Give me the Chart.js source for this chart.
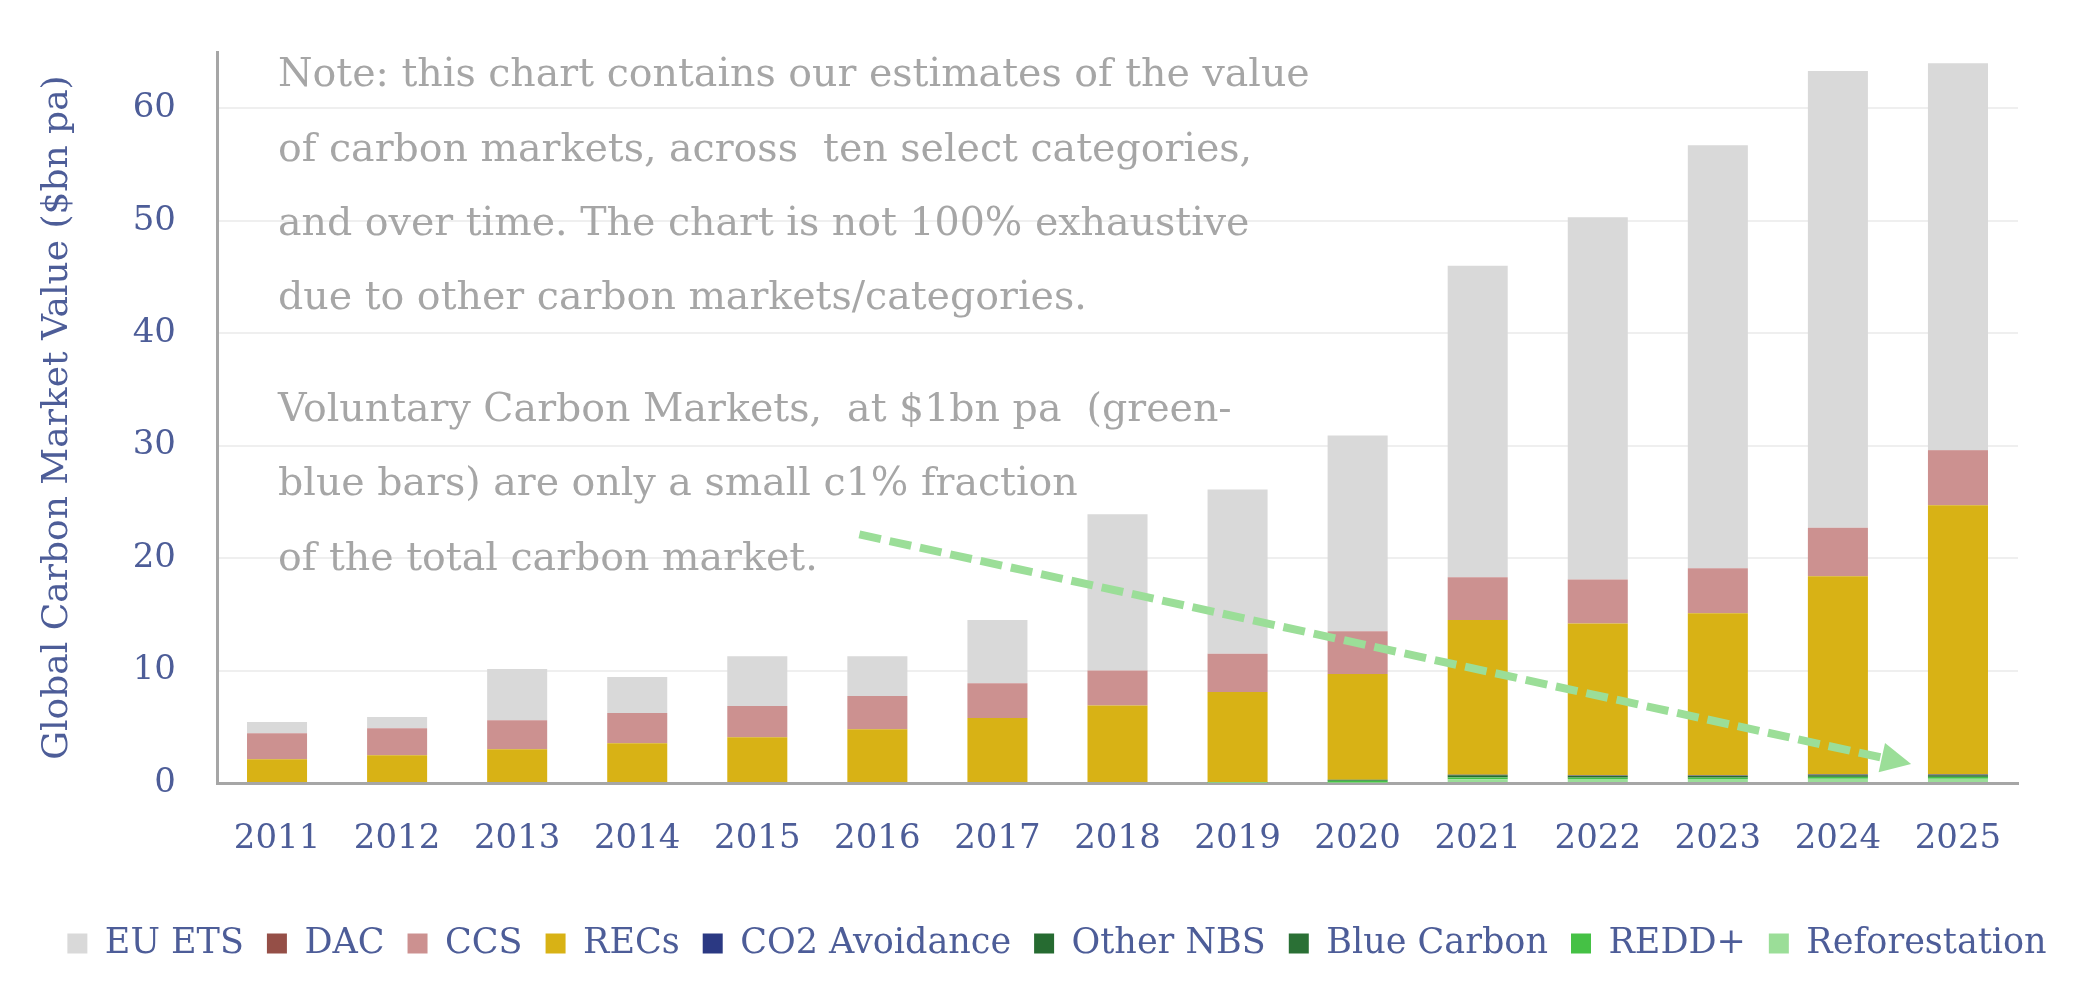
<!DOCTYPE html>
<html>
<head>
<meta charset="utf-8">
<title>Global carbon market value</title>
<script src="https://cdn.jsdelivr.net/npm/chart.js@4.4.0/dist/chart.umd.min.js"></script>
<style>
  html, body { margin: 0; padding: 0; background: #fff; }
</style>
</head>
<body>
<canvas id="chart" width="2078" height="991"></canvas>
<script>
// ---------------- DATA ($bn pa) ----------------
const years = ["2011", "2012", "2013", "2014", "2015", "2016", "2017", "2018",
               "2019", "2020", "2021", "2022", "2023", "2024", "2025"];

const euEts        = [1.01, 1.00, 4.56, 3.20, 4.42, 3.53, 5.63, 13.9, 14.6, 17.4, 27.7, 32.2, 37.6, 40.6, 34.4];
const dac          = [0, 0, 0, 0, 0, 0, 0, 0, 0, 0, 0.01, 0.01, 0.01, 0.01, 0.01];
const ccs          = [2.30, 2.41, 2.58, 2.70, 2.78, 2.96, 3.10, 3.10, 3.40, 3.80, 3.80, 3.90, 4.00, 4.30, 4.90];
const recs         = [2.12, 2.46, 3.00, 3.53, 4.07, 4.78, 5.77, 6.90, 8.00, 9.40, 13.76, 13.52, 14.42, 17.63, 23.93];
const co2Avoidance = [0, 0, 0, 0, 0, 0, 0, 0, 0, 0.01, 0.05, 0.05, 0.05, 0.08, 0.08];
const otherNbs     = [0, 0, 0, 0, 0, 0, 0, 0, 0.05, 0.08, 0.17, 0.12, 0.12, 0.12, 0.12];
const blueCarbon   = [0, 0, 0, 0, 0, 0, 0, 0, 0, 0.01, 0.03, 0.03, 0.03, 0.03, 0.03];
const redd         = [0, 0, 0, 0, 0, 0, 0, 0, 0.03, 0.15, 0.15, 0.12, 0.12, 0.15, 0.15];
const reforest     = [0, 0, 0, 0, 0, 0, 0, 0, 0.02, 0.05, 0.33, 0.35, 0.35, 0.38, 0.38];

const yTicks = [0, 10, 20, 30, 40, 50, 60];

const noteLines = [
  "Note: this chart contains our estimates of the value",
  "of carbon markets, across  ten select categories,",
  "and over time. The chart is not 100% exhaustive",
  "due to other carbon markets/categories.",
  "Voluntary Carbon Markets,  at $1bn pa  (green-",
  "blue bars) are only a small c1% fraction",
  "of the total carbon market."
];
// line slots (in line heights), second paragraph after a half-line gap
const noteSlots = [0, 1, 2, 3, 4.5, 5.5, 6.5];

// arrow in data units: [category index, value]
const arrowFrom = [4.85, 22.1];
const arrowTo = [13.61, 1.69];

// ---------------- STYLE ----------------
const blueText = "#4d5d98";
const greyText = "#a6a6a6";
const serif = "'DejaVu Serif', serif";

Chart.defaults.font.family = serif;

// ---------------- PLUGINS ----------------
const notePlugin = {
  id: "note",
  afterDatasetsDraw(chart) {
    const { ctx, chartArea } = chart;
    ctx.save();
    ctx.font = "39.5px " + serif;
    ctx.fillStyle = greyText;
    ctx.textBaseline = "middle";
    noteLines.forEach((t, i) => {
      ctx.fillText(t, chartArea.left + 61, 76 + noteSlots[i] * 74.4);
    });
    ctx.restore();
  }
};

const arrowPlugin = {
  id: "arrow",
  afterDatasetsDraw(chart) {
    const { ctx } = chart;
    const x = chart.scales.x, y = chart.scales.y;
    const x1 = x.getPixelForValue(arrowFrom[0]), y1 = y.getPixelForValue(arrowFrom[1]);
    const x2 = x.getPixelForValue(arrowTo[0]), y2 = y.getPixelForValue(arrowTo[1]);
    const ang = Math.atan2(y2 - y1, x2 - x1);
    const head = 30, half = 15;
    const bx = x2 - head * Math.cos(ang), by = y2 - head * Math.sin(ang);

    ctx.save();
    ctx.strokeStyle = "#9bde98";
    ctx.fillStyle = "#9bde98";
    ctx.lineWidth = 8;
    ctx.setLineDash([22, 9]);
    ctx.beginPath();
    ctx.moveTo(x1, y1);
    ctx.lineTo(bx, by);
    ctx.stroke();

    ctx.setLineDash([]);
    ctx.beginPath();
    ctx.moveTo(x2, y2);
    ctx.lineTo(bx + half * Math.sin(ang), by - half * Math.cos(ang));
    ctx.lineTo(bx - half * Math.sin(ang), by + half * Math.cos(ang));
    ctx.closePath();
    ctx.fill();
    ctx.restore();
  }
};

// ---------------- CHART ----------------
// datasets from bottom of stack to top, legend reversed
const series = [
  { label: "Reforestation", data: reforest,     color: "#9bde98" },
  { label: "REDD+",         data: redd,         color: "#45c145" },
  { label: "Blue Carbon",   data: blueCarbon,   color: "#2a7035" },
  { label: "Other NBS",     data: otherNbs,     color: "#266b31" },
  { label: "CO2 Avoidance", data: co2Avoidance, color: "#2b3983" },
  { label: "RECs",          data: recs,         color: "#d8b215" },
  { label: "CCS",           data: ccs,          color: "#cc9190" },
  { label: "DAC",           data: dac,          color: "#954f47" },
  { label: "EU ETS",        data: euEts,        color: "#d9d9d9" }
];

const legendBottomPad = 20;
const leftPad = 36;

new Chart(document.getElementById("chart"), {
  type: "bar",
  data: {
    labels: years,
    datasets: series.map((s) => ({
      label: s.label,
      data: s.data,
      backgroundColor: s.color,
      borderWidth: 0,
      categoryPercentage: 1.0,
      barPercentage: 0.5
    }))
  },
  options: {
    responsive: false,
    animation: false,
    devicePixelRatio: 1,
    layout: { padding: { left: leftPad, right: 0, top: 52, bottom: legendBottomPad } },
    plugins: {
      tooltip: { enabled: false },
      legend: {
        position: "bottom",
        labels: {
          boxWidth: 20,
          boxHeight: 20,
          padding: 23,
          color: blueText,
          font: { size: 35, family: serif },
          sort: (a, b) => b.datasetIndex - a.datasetIndex
        }
      }
    },
    scales: {
      x: {
        stacked: true,
        grid: { display: false, drawTicks: false },
        border: { color: "#a6a6a6", width: 3 },
        ticks: { color: blueText, font: { size: 34 }, padding: 36, maxRotation: 0 },
        afterFit: (s) => {
          s.height = 991 - 783 - s.chart.legend.height - legendBottomPad;
        }
      },
      y: {
        stacked: true,
        min: 0,
        max: 65,
        afterBuildTicks: (s) => { s.ticks = yTicks.map((v) => ({ value: v })); },
        afterFit: (s) => {
          s.width = 217 - leftPad;
          s.paddingTop = 0;
          s.paddingBottom = 0;
        },
        grid: { color: "#efefef", lineWidth: 2, drawTicks: false },
        border: { color: "#a6a6a6", width: 3 },
        ticks: { color: blueText, font: { size: 34 }, padding: 41 },
        title: {
          display: true,
          text: "Global Carbon Market Value ($bn pa)",
          color: blueText,
          font: { size: 36 },
          padding: { top: 0, bottom: 0 }
        }
      },
      // empty right-hand gutter so the plot ends where the reference does
      yGutter: {
        position: "right",
        display: true,
        grid: { display: false, drawTicks: false },
        border: { display: false },
        ticks: { display: false },
        afterFit: (s) => {
          s.width = 60;
          s.paddingTop = 0;
          s.paddingBottom = 0;
        }
      }
    }
  },
  plugins: [notePlugin, arrowPlugin]
});
</script>
</body>
</html>
